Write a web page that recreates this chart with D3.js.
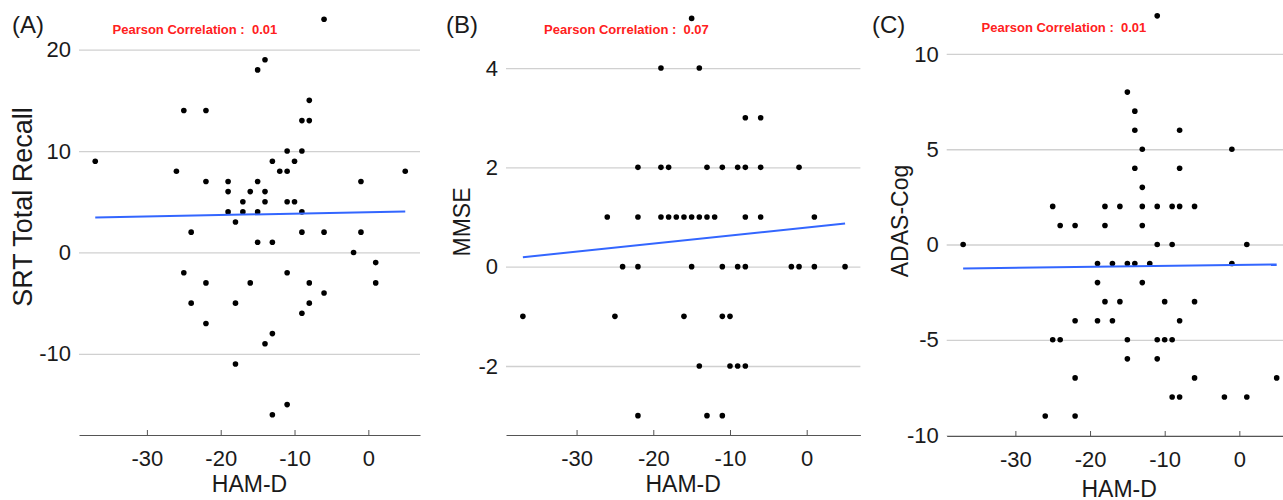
<!DOCTYPE html>
<html>
<head>
<meta charset="utf-8">
<script src="https://cdnjs.cloudflare.com/ajax/libs/d3/7.8.5/d3.min.js"></script>
<style>
  body { margin: 0; background: #fff; overflow: hidden; }
  svg { display: block; font-family: "Liberation Sans", Arial, Helvetica, sans-serif; }
</style>
</head>
<body>
<svg id="chart" width="1283" height="500"></svg>
<script>
// HAM-D change on x, cognitive score change on y
const hamA = [-37,-25,-22,-26,-22,-24,-6,-14,-15,-8,-9,-8,-11,-9,-13,-10,-12,-11,-19,-15,-1,5,-19,-16,-14,-17,-14,-11,-10,-19,-17,-15,-9,-18,-9,-6,-1,-15,-13,-2,1,1,-22,-16,-8,-11,-6,-18,-8,-9,-22,-13,-14,-18,-11,-13,-25,-24];
const srtRecall = [9,14,14,8,7,2,23,19,18,15,13,13,10,10,9,9,8,8,7,7,7,8,6,6,6,5,5,5,5,4,4,4,4,3,2,2,2,1,1,0,-1,-3,-3,-3,-3,-2,-4,-5,-5,-6,-7,-8,-9,-11,-15,-16,-2,-5];

const hamB = [-15,-19,-14,-8,-6,
  -22,-19,-18,-13,-11,-9,-8,-6,-1,
  -26,-22,-19,-18,-17,-16,-15,-14,-13,-12,-8,-6,1,
  -24,-22,-15,-11,-9,-8,-2,-1,1,5,
  -37,-25,-16,-11,-10,
  -14,-10,-9,-8,
  -22,-13,-11];
const mmse = [5,4,4,3,3,
  2,2,2,2,2,2,2,2,2,
  1,1,1,1,1,1,1,1,1,1,1,1,1,
  0,0,0,0,0,0,0,0,0,0,
  -1,-1,-1,-1,-1,
  -2,-2,-2,-2,
  -3,-3,-3];

const hamC = [-11,-15,-14,-14,-8,-13,-1,-14,-8,-13,
  -25,-18,-16,-13,-11,-9,-8,-6,
  -24,-22,-18,-13,
  -37,-11,-9,1,
  -19,-17,-15,-14,-12,-1,
  -19,-13,
  -18,-16,-10,-6,
  -22,-19,-17,-8,
  -25,-24,-15,-11,-10,-9,
  -15,-11,
  -22,-6,5,
  -9,-8,-2,1,
  -26,-22];
const adasCog = [12,8,7,6,6,5,5,4,4,3,
  2,2,2,2,2,2,2,2,
  1,1,1,1,
  0,0,0,0,
  -1,-1,-1,-1,-1,-1,
  -2,-2,
  -3,-3,-3,-3,
  -4,-4,-4,-4,
  -5,-5,-5,-5,-5,-5,
  -6,-6,
  -7,-7,-7,
  -8,-8,-8,-8,
  -9,-9];

// fitted line end points [x, y]
const fitA = [[-37, 3.45], [5, 4.04]];
const fitB = [[-37, 0.19], [5, 0.87]];
const fitC = [[-37, -1.26], [5, -1.05]];

const pearson = ["0.01", "0.07", "0.01"];
const letters = ["(A)", "(B)", "(C)"];
const yTitles = ["SRT Total Recall", "MMSE", "ADAS-Cog"];
const xTicks = [-30, -20, -10, 0];
const yTicksA = [-10, 0, 10, 20];
const yTicksB = [-2, 0, 2, 4];
const yTicksC = [-10, -5, 0, 5, 10];

const panels = [
  { xs: hamA, ys: srtRecall, fit: fitA, yTicks: yTicksA, yDomain: [-18, 24.4],
    left: 79, right: 420, top: 5, bottom: 435, titleX: 32, titleY: 207, titleSize: 27, xTitleY: 492, letterX: 12 },
  { xs: hamB, ys: mmse, fit: fitB, yTicks: yTicksB, yDomain: [-3.39, 5.27],
    left: 506, right: 860.4, top: 5, bottom: 435, titleX: 470, titleY: 222, titleSize: 23, xTitleY: 492, letterX: 446 },
  { xs: hamC, ys: adasCog, fit: fitC, yTicks: yTicksC, yDomain: [-10.05, 12.57],
    left: 946.7, right: 1291.6, top: 5, bottom: 436, titleX: 908, titleY: 221, titleSize: 23, xTitleY: 497, letterX: 872 }
];

const svg = d3.select('#chart');

panels.forEach((p, i) => {
  const x = d3.scaleLinear().domain([-39.2, 7]).range([p.left, p.right]);
  const y = d3.scaleLinear().domain(p.yDomain).range([p.bottom, p.top]);
  const g = svg.append('g');

  // grid + y labels
  const yAxis = g.append('g')
    .attr('transform', `translate(${p.left},0)`)
    .call(d3.axisLeft(y).tickValues(p.yTicks).tickSize(-(p.right - p.left)).tickPadding(8).tickFormat(d3.format('d')));
  yAxis.select('.domain').remove();
  yAxis.selectAll('.tick line').attr('stroke', '#d0d0d0').attr('stroke-width', 1.3);
  yAxis.selectAll('.tick text')
    .attr('fill', '#1a1a1a')
    .style('font-size', '22px')
    .text(d => d < 0 ? '-' + Math.abs(d) : d);

  // x axis, ticks pointing up
  const xAxis = g.append('g')
    .attr('transform', `translate(0,${p.bottom})`)
    .call(d3.axisBottom(x).tickValues(xTicks).tickSizeInner(-5).tickSizeOuter(0).tickPadding(15));
  xAxis.select('.domain').attr('stroke', '#555').attr('stroke-width', 1);
  xAxis.selectAll('.tick line').attr('stroke', '#555');
  xAxis.selectAll('.tick text')
    .attr('fill', '#1a1a1a')
    .style('font-size', '22px')
    .text(d => d < 0 ? '-' + Math.abs(d) : d);

  // points
  g.append('g')
    .selectAll('circle')
    .data(p.xs.map((v, k) => [v, p.ys[k]]))
    .join('circle')
    .attr('cx', d => x(d[0]))
    .attr('cy', d => y(d[1]))
    .attr('r', 2.8)
    .attr('fill', '#000');

  // fit line
  g.append('path')
    .datum(p.fit)
    .attr('d', d3.line().x(d => x(d[0])).y(d => y(d[1])))
    .attr('fill', 'none')
    .attr('stroke', '#3366ff')
    .attr('stroke-width', 2);

  // correlation note
  g.append('text')
    .attr('x', x(-23.5))
    .attr('y', i === 2 ? 32 : 34)
    .attr('text-anchor', 'middle')
    .attr('fill', '#ff2020')
    .style('font-size', '13px')
    .style('font-weight', 'bold')
    .style('white-space', 'pre')
    .text('Pearson Correlation :  ' + pearson[i]);

  // panel letter
  g.append('text')
    .attr('x', p.letterX)
    .attr('y', 33)
    .attr('fill', '#1a1a1a')
    .style('font-size', '24px')
    .text(letters[i]);

  // axis titles
  g.append('text')
    .attr('transform', `translate(${p.titleX},${p.titleY}) rotate(-90)`)
    .attr('text-anchor', 'middle')
    .attr('fill', '#1a1a1a')
    .style('font-size', p.titleSize + 'px')
    .text(yTitles[i]);

  g.append('text')
    .attr('x', (p.left + p.right) / 2)
    .attr('y', p.xTitleY)
    .attr('text-anchor', 'middle')
    .attr('fill', '#1a1a1a')
    .style('font-size', '23px')
    .text('HAM-D');
});
</script>
</body>
</html>
